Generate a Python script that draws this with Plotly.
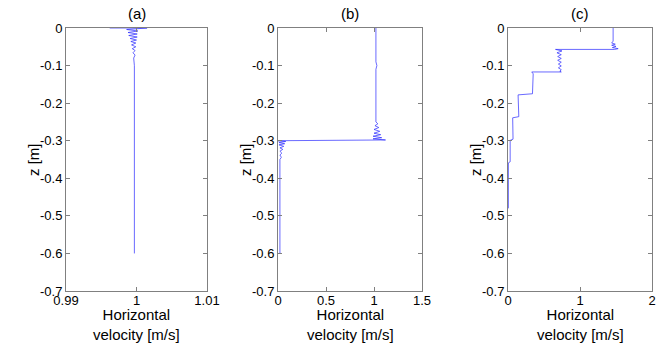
import plotly.graph_objects as go

# ---------------- data ----------------
# panel (a)
za = [0, 0, -0.004, -0.008, -0.012, -0.016, -0.020, -0.024, -0.028, -0.032,
      -0.036, -0.040, -0.045, -0.050, -0.055, -0.060, -0.066, -0.072, -0.080, -0.090,
      -0.100, -0.600]
ua = [0.9962, 1.0015, 0.9986, 1.0002, 0.9988, 1.0001, 0.9989, 1.0001, 0.9991, 1.0000,
      0.9992, 0.9999, 0.9993, 0.9999, 0.9994, 0.9998, 0.9995, 0.9998, 0.9996, 0.9997,
      0.9997, 0.9997]

# panel (b)
zb = [0, -0.09, -0.10, -0.11, -0.25, -0.255, -0.26, -0.265, -0.27, -0.275, -0.28,
      -0.284, -0.288, -0.292, -0.295, -0.298, -0.300, -0.302, -0.305, -0.308, -0.311,
      -0.315, -0.319, -0.323, -0.328, -0.333, -0.338, -0.344, -0.350, -0.36,
      -0.60, -0.60]
ub = [1.02, 1.02, 1.03, 1.02, 1.02, 1.04, 1.01, 1.05, 1.00, 1.06, 1.00,
      1.07, 0.99, 1.08, 0.99, 1.12, 0.00, 0.08, 0.01, 0.07, 0.01,
      0.06, 0.02, 0.05, 0.02, 0.04, 0.02, 0.035, 0.02, 0.02,
      0.02, 0.03]

# panel (c)
zc = [0, -0.035, -0.040, -0.043, -0.046, -0.049, -0.052, -0.055, -0.057, -0.057,
      -0.061, -0.066, -0.071, -0.076, -0.081, -0.086, -0.091, -0.096, -0.101, -0.106,
      -0.111, -0.115, -0.117, -0.117, -0.122, -0.175, -0.178, -0.236, -0.239,
      -0.296, -0.299, -0.356, -0.359, -0.480]
uc = [1.46, 1.46, 1.44, 1.49, 1.44, 1.50, 1.45, 1.53, 1.48, 0.66,
      0.75, 0.68, 0.74, 0.69, 0.74, 0.69, 0.74, 0.70, 0.74, 0.70,
      0.74, 0.72, 0.74, 0.33, 0.35, 0.34, 0.14, 0.15, 0.065,
      0.07, 0.03, 0.03, 0.005, 0.005]

panel_titles = ["(a)", "(b)", "(c)"]
y_tickvals = [0, -0.1, -0.2, -0.3, -0.4, -0.5, -0.6, -0.7]
y_ticktext = ["0", "-0.1", "-0.2", "-0.3", "-0.4", "-0.5", "-0.6", "-0.7"]
xa_ticks = [0.99, 1, 1.01]
xa_text = ["0.99", "1", "1.01"]
xb_ticks = [0, 0.5, 1, 1.5]
xb_text = ["0", "0.5", "1", "1.5"]
xc_ticks = [0, 1, 2]
xc_text = ["0", "1", "2"]
x_ranges = [[0.99, 1.01], [0, 1.5], [0, 2]]
y_label = "z [m]"
x_label = "Horizontal<br>velocity [m/s]"

# ---------------- figure ----------------
W, H = 665, 349
FONT = "Liberation Sans, Arial, sans-serif"
LINE = "#2a2aff"
GRAY = "#808080"

fig = go.Figure()
for i, (u, z) in enumerate([(ua, za), (ub, zb), (uc, zc)]):
    sfx = "" if i == 0 else str(i + 1)
    fig.add_trace(go.Scatter(x=u, y=z, mode="lines",
                             line=dict(color=LINE, width=0.7),
                             xaxis="x" + sfx, yaxis="y" + sfx,
                             showlegend=False, hoverinfo="skip"))

boxes = [(66, 207), (278, 422), (508, 652)]
top_px, bot_px = 28, 291
ydom = [1 - bot_px / H, 1 - top_px / H]

common = dict(showline=True, linecolor=GRAY, linewidth=1, mirror="ticks",
              ticks="inside", ticklen=4, tickcolor=GRAY, tickwidth=1,
              showgrid=False, zeroline=False, automargin=False,
              tickfont=dict(family=FONT, size=13, color="black"))

xt = [(xa_ticks, xa_text), (xb_ticks, xb_text), (xc_ticks, xc_text)]
layout = dict(width=W, height=H, margin=dict(l=0, r=0, t=0, b=0, pad=0),
              paper_bgcolor="white", plot_bgcolor="white")
for i, (l, r) in enumerate(boxes):
    sfx = "" if i == 0 else str(i + 1)
    layout["xaxis" + sfx] = dict(common, domain=[l / W, r / W], range=x_ranges[i],
                                 tickvals=xt[i][0], ticktext=xt[i][1],
                                 anchor="y" + sfx, ticklabelstandoff=-3)
    layout["yaxis" + sfx] = dict(common, domain=ydom, range=[-0.7, 0],
                                 tickvals=y_tickvals, ticktext=y_ticktext,
                                 anchor="x" + sfx, ticklabelstandoff=0)
fig.update_layout(**layout)

ylab_x = [33, 245, 475]
for i, (l, r) in enumerate(boxes):
    cx = (l + r) / 2 / W
    fig.add_annotation(text=panel_titles[i], x=cx, y=1 - 13 / H, xref="paper", yref="paper",
                       showarrow=False, font=dict(family=FONT, size=15, color="black"),
                       xanchor="center", yanchor="middle")
    fig.add_annotation(text=x_label, x=cx, y=1 - 324 / H, xref="paper", yref="paper",
                       showarrow=False, font=dict(family=FONT, size=15, color="black"),
                       xanchor="center", yanchor="middle")
    fig.add_annotation(text=y_label, x=ylab_x[i] / W, y=1 - 160 / H, xref="paper", yref="paper",
                       showarrow=False, textangle=-90,
                       font=dict(family=FONT, size=15, color="black"),
                       xanchor="center", yanchor="middle")

fig.write_html("out.html", config={"displayModeBar": False},
               post_script="document.body.style.margin='0';")
